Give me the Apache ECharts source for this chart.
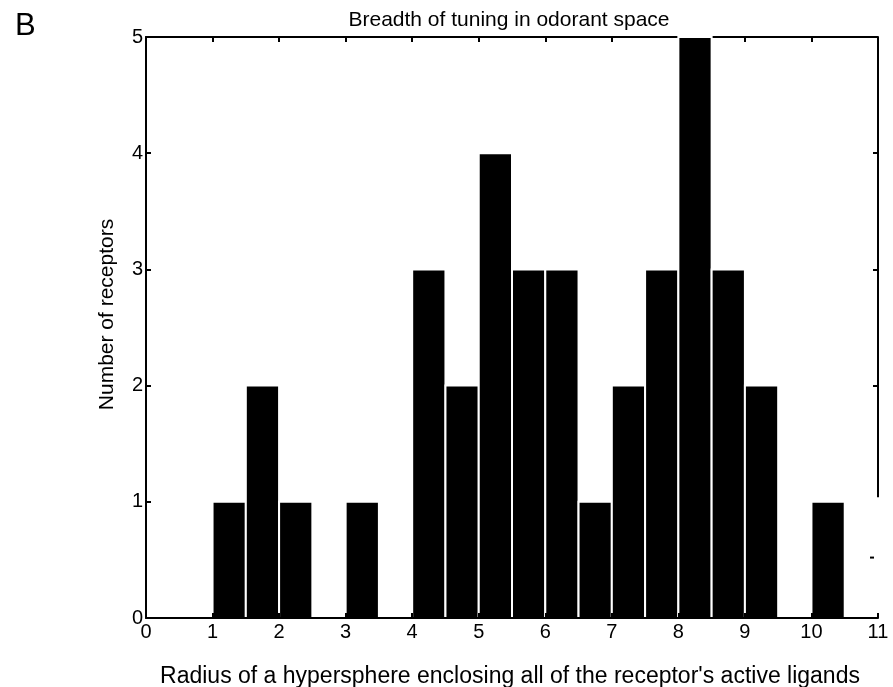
<!DOCTYPE html>
<html>
<head>
<meta charset="utf-8">
<script src="https://cdn.jsdelivr.net/npm/echarts@6/dist/echarts.min.js"></script>
<style>
  html, body { margin: 0; padding: 0; background: #fff; }
  #chart { width: 893px; height: 687px; }
</style>
</head>
<body>
<div id="chart"></div>
<script>
// Histogram bins (left edge, right edge) and receptor counts per bin
const binStarts = [1, 1.5, 2, 2.5, 3, 3.5, 4, 4.5, 5, 5.5, 6, 6.5, 7, 7.5, 8, 8.5, 9, 9.5, 10];
const binEnds   = [1.5, 2, 2.5, 3, 3.5, 4, 4.5, 5, 5.5, 6, 6.5, 7, 7.5, 8, 8.5, 9, 9.5, 10, 10.5];
const counts    = [1, 2, 1, 0, 1, 0, 3, 2, 4, 3, 3, 1, 2, 3, 5, 3, 2, 0, 1];

const xTicks = [0, 1, 2, 3, 4, 5, 6, 7, 8, 9, 10, 11];
const yTicks = [0, 1, 2, 3, 4, 5];
const rightTicks = [2, 3, 4, 5];

const titleText = 'Breadth of tuning in odorant space';
const xName = "Radius of a hypersphere enclosing all of the receptor's active ligands";
const yName = 'Number of receptors';
const panelLetter = 'B';

// Right frame edge segment (partially drawn) and stray dash
const rightEdge = [[11, 1.04], [11, 5]];
const strayDash = [[10.88, 0.52], [10.94, 0.52]];

const FONT = '"Liberation Sans", Arial, Helvetica, sans-serif';
const TICK_FONT = 20;

const histData = binStarts.map((s, i) => [s, binEnds[i], counts[i]]);

const chart = echarts.init(document.getElementById('chart'), null, { renderer: 'canvas' });

function axisLabelStyle(extra) {
  return Object.assign({ color: '#000', fontFamily: FONT, fontSize: TICK_FONT }, extra);
}

const lineStyleBlack = { color: '#000', width: 2 };

chart.setOption({
  animation: false,
  backgroundColor: '#fff',
  grid: { left: 146, right: 15, top: 37, bottom: 69, containLabel: false, outerBoundsMode: 'none' },
  title: [
    { text: titleText, left: 504, top: 5, textAlign: 'center',
      textStyle: { fontFamily: FONT, fontSize: 21, fontWeight: 'normal', color: '#000' } },
    { text: panelLetter, left: 10, top: 6,
      textStyle: { fontFamily: FONT, fontSize: 31, fontWeight: 'normal', color: '#000' } }
  ],
  xAxis: [
    {
      type: 'value', position: 'bottom', min: 0, max: 11, interval: 1, z: 5,
      splitLine: { show: false },
      axisLine: { show: true, onZero: false, lineStyle: lineStyleBlack },
      axisTick: { show: true, inside: true, length: 5, lineStyle: lineStyleBlack },
      axisLabel: axisLabelStyle({ margin: 4, formatter: v => xTicks.includes(v) ? String(v) : '' }),
      name: xName, nameLocation: 'middle', nameGap: 47,
      nameTextStyle: { fontFamily: FONT, fontSize: 23, color: '#000', padding: [0, 4, 0, 0] }
    },
    {
      type: 'value', position: 'top', min: 0, max: 11, interval: 1, z: 0,
      splitLine: { show: false },
      axisLine: { show: true, onZero: false, lineStyle: lineStyleBlack },
      axisTick: { show: true, inside: true, length: 5, lineStyle: lineStyleBlack },
      axisLabel: { show: false }
    }
  ],
  yAxis: [
    {
      type: 'value', position: 'left', min: 0, max: 5, interval: 1, z: 5,
      splitLine: { show: false },
      axisLine: { show: true, onZero: false, lineStyle: lineStyleBlack },
      axisTick: { show: true, inside: true, length: 5, lineStyle: lineStyleBlack },
      axisLabel: axisLabelStyle({ margin: 3, formatter: v => yTicks.includes(v) ? String(v) : '' }),
      name: yName, nameLocation: 'middle', nameGap: 28,
      nameTextStyle: { fontFamily: FONT, fontSize: 21, color: '#000', padding: [0, 0, 0, 26] }
    },
    {
      type: 'value', position: 'right', min: 0, max: 5, interval: 1, z: 4,
      splitLine: { show: false },
      axisLine: { show: true, onZero: false, lineStyle: { color: 'rgba(0,0,0,0)', width: 2 } },
      axisTick: { show: true, inside: true, length: 5, customValues: rightTicks, lineStyle: lineStyleBlack },
      axisLabel: { show: false }
    }
  ],
  series: [
    {
      type: 'custom',
      xAxisIndex: 0,
      yAxisIndex: 0,
      z: 3,
      data: histData,
      renderItem: function (params, api) {
        const h = api.value(2);
        if (!h) return null;
        const p0 = api.coord([api.value(0), 0]);
        const p1 = api.coord([api.value(1), h]);
        return {
          type: 'rect',
          shape: { x: p0[0], y: p1[1], width: p1[0] - p0[0], height: p0[1] - p1[1] },
          style: { fill: '#000', stroke: '#fff', lineWidth: 2 }
        };
      }
    },
    {
      type: 'line',
      xAxisIndex: 0,
      yAxisIndex: 0,
      z: 4,
      data: rightEdge,
      symbol: 'none',
      lineStyle: lineStyleBlack
    },
    {
      type: 'line',
      xAxisIndex: 0,
      yAxisIndex: 0,
      z: 4,
      data: strayDash,
      symbol: 'none',
      lineStyle: lineStyleBlack
    }
  ]
});
</script>
</body>
</html>
